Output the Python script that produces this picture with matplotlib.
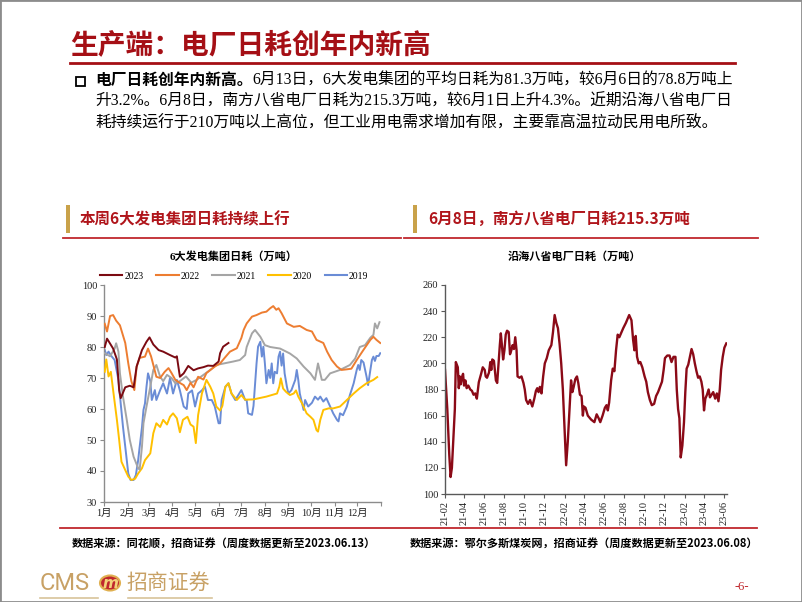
import numpy as np
import pandas as pd
import matplotlib
matplotlib.use('Agg')
import matplotlib.pyplot as plt
import matplotlib.dates as mdates
from matplotlib.patches import Rectangle, Circle
from matplotlib.lines import Line2D

# ---- left chart: 6 big power groups, daily coal burn (10k t), x = day of year
day_2023 = [1, 4, 12, 17, 20, 22, 28, 34, 39, 43, 50, 56, 60, 65, 72, 78, 87, 94, 96, 100,
            105, 111, 118, 124, 131, 137, 144, 151, 153, 157, 164]
val_2023 = [80, 82.7, 79.5, 76, 66, 63.5, 67, 67.5, 67, 73.7, 79, 81.7, 83.1, 80.8, 79, 78.5,
            77.4, 76.6, 77, 70.4, 71.5, 73.9, 72.5, 73.1, 73.5, 74, 73.9, 75.3, 78, 80.1, 81.3]

day_2022 = [1, 4, 8, 12, 16, 21, 28, 32, 36, 40, 43, 47, 54, 58, 62, 65, 69, 74, 80, 85,
            89, 94, 100, 105, 109, 114, 118, 124, 131, 135, 146, 153, 159, 166, 175, 181, 184,
            188, 195, 201, 208, 214, 219, 223, 227, 230, 234, 241, 250, 258, 267, 274, 280,
            289, 294, 300, 307, 313, 320, 326, 333, 342, 351, 355, 359, 364]
val_2022 = [87.5, 85, 90, 90.3, 88.5, 87, 81.3, 74.7, 69, 66.1, 73.7, 76.5, 76.9, 79.5, 77,
            74.2, 70.4, 70, 72, 73.2, 71.6, 69.4, 68.4, 67.7, 66.1, 68.5, 67, 70.4, 69.5, 71.6,
            73.7, 74.7, 76.5, 78.5, 79.6, 82.9, 85.5, 87.6, 89.8, 90.3, 91.1, 91.4, 92.5, 93.2,
            92, 92.5, 90.9, 87.6, 86.5, 86.8, 85.5, 85, 82.3, 81.3, 78.5, 75.8, 73.7, 72.6,
            72.8, 73, 75.8, 79.1, 82.3, 83.3, 82.3, 81.3]

day_2021 = [1, 8, 14, 16, 19, 21, 25, 30, 34, 39, 45, 47, 50, 52, 56, 61, 65, 69, 74, 78,
            83, 89, 94, 100, 108, 115, 122, 131, 140, 148, 160, 170, 179, 186, 188, 195, 199,
            206, 212, 219, 232, 245, 254, 263, 272, 278, 282, 287, 291, 298, 311, 324, 331,
            337, 344, 351, 355, 357, 360, 363]
val_2021 = [78, 77, 79.5, 81.2, 78.5, 71.5, 64, 56.5, 50, 44.6, 40.9, 40.5, 47.8, 55.4, 60.8,
            67.2, 72.6, 74.2, 70.4, 69, 71, 70, 68.3, 69, 70.5, 68.5, 69.4, 71, 72.6, 74.2,
            74.8, 75.3, 75.8, 77.4, 80, 84.4, 85.5, 83.3, 80.6, 80, 79.5, 77.9, 76.3, 73.7,
            71.5, 69.4, 74.7, 69.4, 69.4, 71.5, 72.6, 74.2, 76.3, 80, 80.6, 83, 83.9, 87.6,
            86, 88]

day_2020 = [1, 3, 6, 9, 12, 17, 20, 23, 28, 32, 36, 41, 45, 50, 54, 61, 65, 69, 74, 78,
            83, 87, 91, 96, 100, 104, 110, 114, 118, 121, 124, 129, 135, 140, 144, 148, 153,
            156, 160, 164, 168, 175, 181, 186, 197, 214, 228, 231, 233, 236, 240, 245, 250,
            253, 256, 261, 267, 272, 276, 280, 282, 285, 289, 296, 302, 311, 320, 329, 337,
            346, 355, 360]
val_2020 = [72, 76, 70.5, 72, 66.1, 56.5, 50, 43, 40.3, 38.2, 37.1, 37.5, 39.2, 40.9, 43.5,
            45.7, 52.2, 55.4, 54.2, 56.5, 55, 57.5, 58.6, 57, 52.5, 56.5, 57.5, 55, 54.3, 49,
            58, 65, 69.4, 67.2, 65, 60.8, 59.5, 61, 67.2, 68.3, 65, 62.9, 64.5, 63, 63.1, 64,
            65, 67.2, 69.9, 66.6, 65.5, 64.5, 65, 66, 64, 61.8, 58.6, 57.5, 56.5, 53.2, 52.7,
            56.5, 59.7, 60.2, 60.2, 60.8, 62.9, 65, 66.7, 68.3, 69.4, 70.3]

day_2019 = [1, 3, 6, 10, 14, 19, 22, 25, 29, 32, 35, 39, 42, 45, 47, 50, 52, 54, 56, 58,
            61, 63, 67, 69, 74, 78, 83, 87, 91, 96, 100, 105, 109, 111, 116, 120, 124, 129,
            133, 137, 142, 146, 151, 153, 155, 160, 164, 168, 173, 177, 181, 186, 188, 190,
            195, 197, 201, 203, 206, 208, 210, 212, 214, 217, 219, 221, 223, 225, 228, 230,
            232, 234, 236, 238, 241, 243, 247, 252, 254, 256, 258, 263, 265, 269, 274, 278,
            282, 285, 289, 293, 298, 302, 307, 309, 311, 315, 320, 324, 326, 329, 333, 335,
            337, 339, 342, 346, 348, 351, 353, 355, 357, 359, 362, 364]
val_2019 = [79, 77.4, 78.5, 77, 75.8, 69.4, 61.8, 54.3, 45.7, 39.2, 37.1, 37.1, 38.7, 43.5,
            47.8, 54, 59.7, 61.8, 67.2, 71.5, 69, 62.9, 66.1, 62.9, 66.1, 68.3, 65, 70, 65,
            69.4, 66, 60.8, 60, 65, 66, 60.8, 65, 66, 67.2, 62.9, 62.9, 60.8, 55.4, 55.4,
            62.9, 67.2, 68.3, 65, 62.9, 64.5, 66.1, 62.9, 62.9, 58.6, 58.1, 61, 74.7, 80.1,
            81.7, 76.9, 80.1, 74.7, 68.3, 72.6, 70, 74.7, 68.3, 72, 71.5, 76.9, 78.5, 74,
            77.9, 71.5, 67.2, 65, 66.1, 69.4, 72.6, 69.4, 65, 59.7, 62.9, 60.8, 62, 64, 63,
            64, 62.4, 63.5, 60.8, 58.6, 56.5, 56, 58.6, 58, 60.8, 64.5, 66, 68.3, 72.6, 74.2,
            72.6, 75.8, 75, 70.4, 67.7, 72.6, 75.8, 76.9, 75.5, 77.1, 77.1, 78]

years = ['2023', '2022', '2021', '2020', '2019']
month_labels = ['1月', '2月', '3月', '4月', '5月', '6月', '7月', '8月', '9月', '10月', '11月', '12月']
month_starts = [0, 31, 59, 90, 120, 151, 181, 212, 243, 273, 304, 334, 365]

# ---- right chart: coastal 8 provinces power plants daily burn (10k t)
south_dates = [
    '2021-02-01', '2021-02-08', '2021-02-14', '2021-02-18', '2021-02-22', '2021-02-26',
    '2021-03-03', '2021-03-06', '2021-03-09', '2021-03-12', '2021-03-15', '2021-03-18',
    '2021-03-21', '2021-03-24', '2021-03-28', '2021-03-31', '2021-04-04', '2021-04-08',
    '2021-04-13', '2021-04-19', '2021-04-24', '2021-04-29', '2021-05-04', '2021-05-09',
    '2021-05-15', '2021-05-22', '2021-05-27', '2021-06-02', '2021-06-05', '2021-06-09',
    '2021-06-15', '2021-06-19', '2021-06-22', '2021-06-25', '2021-06-30', '2021-07-06',
    '2021-07-10', '2021-07-14', '2021-07-18', '2021-07-21', '2021-07-24', '2021-07-28',
    '2021-08-01', '2021-08-05', '2021-08-09', '2021-08-14', '2021-08-18', '2021-08-22',
    '2021-08-26', '2021-08-30', '2021-09-03', '2021-09-07', '2021-09-10', '2021-09-16',
    '2021-09-22', '2021-09-28', '2021-10-02', '2021-10-06', '2021-10-12', '2021-10-18',
    '2021-10-25', '2021-10-31', '2021-11-05', '2021-11-09', '2021-11-13', '2021-11-17',
    '2021-11-22', '2021-11-27', '2021-12-02', '2021-12-08', '2021-12-14', '2021-12-22',
    '2021-12-27', '2022-01-01', '2022-01-06', '2022-01-11', '2022-01-16', '2022-01-21',
    '2022-01-26', '2022-01-31', '2022-02-05', '2022-02-10', '2022-02-16', '2022-02-20',
    '2022-02-24', '2022-02-28', '2022-03-05', '2022-03-10', '2022-03-14', '2022-03-19',
    '2022-03-24', '2022-03-28', '2022-03-31', '2022-04-05', '2022-04-12', '2022-04-22',
    '2022-05-02', '2022-05-09', '2022-05-15', '2022-05-20', '2022-05-27', '2022-06-03',
    '2022-06-08', '2022-06-12', '2022-06-16', '2022-06-22', '2022-06-27', '2022-07-02',
    '2022-07-07', '2022-07-12', '2022-07-17', '2022-07-22', '2022-07-29', '2022-08-06',
    '2022-08-16', '2022-08-23', '2022-08-28', '2022-09-01', '2022-09-05', '2022-09-09',
    '2022-09-14', '2022-09-19', '2022-09-25', '2022-10-02', '2022-10-07', '2022-10-12',
    '2022-10-18', '2022-10-24', '2022-10-31', '2022-11-06', '2022-11-12', '2022-11-18',
    '2022-11-24', '2022-11-29', '2022-12-03', '2022-12-10', '2022-12-17', '2022-12-23',
    '2022-12-29', '2023-01-04', '2023-01-08', '2023-01-12', '2023-01-16', '2023-01-20',
    '2023-01-25', '2023-01-30', '2023-02-03', '2023-02-07', '2023-02-12', '2023-02-17',
    '2023-02-22', '2023-02-27', '2023-03-04', '2023-03-09', '2023-03-14', '2023-03-19',
    '2023-03-24', '2023-03-28', '2023-04-01', '2023-04-05', '2023-04-10', '2023-04-15',
    '2023-04-19', '2023-04-24', '2023-04-29', '2023-05-05', '2023-05-10', '2023-05-15',
    '2023-05-19', '2023-05-23', '2023-05-28', '2023-06-02', '2023-06-08']
south_vals = [
    195, 165, 130, 113, 120, 140, 165, 201, 199, 197, 181, 190,
    184, 189, 192, 183, 187, 181, 183, 180, 179, 176, 177, 173,
    185.6, 192, 197, 195, 190, 189, 193, 201, 195, 203, 202, 187,
    185, 200, 214, 223, 215, 203, 210, 222, 225, 224, 207, 210,
    214, 211, 220, 210, 190, 189, 190, 185, 180, 172, 169, 172,
    167, 173, 179, 181, 178, 182, 177, 190, 200, 204, 210, 214,
    224, 237, 231, 227, 215, 200, 180, 150, 122, 140, 168, 187,
    178, 182, 188, 190, 185, 176, 175, 160, 167, 166, 160, 157,
    155, 161, 158, 155, 160, 166, 168, 164, 170, 187, 196, 194,
    210, 222, 220, 223, 227, 231, 237, 233, 218, 210, 221, 205,
    200, 201, 197, 190, 186, 178, 172, 168, 169, 175, 178, 182,
    186, 195, 204, 206, 206, 201, 205, 205, 180, 165, 158, 128,
    137, 155, 178, 196, 199, 205, 211, 207, 200, 194, 189, 190,
    186, 180, 164, 173, 176, 180, 174, 176, 178, 173, 177, 171,
    180, 195, 205, 212, 215.3]

colors = {'2023': '#7B0A12', '2022': '#ED7D31', '2021': '#A5A5A5',
          '2020': '#FFC000', '2019': '#6A8CD6'}
RED = '#A50F15'
GOLD = '#C9A24A'
SERIF = ['Liberation Serif', 'Noto Sans CJK SC']
SANS = ['Noto Sans CJK SC', 'DejaVu Sans']

W, H = 802, 602


def fx(px):
    return px / W


def fy(py):
    return 1 - py / H


def hline(fig, x0, x1, y, color, lw):
    fig.add_artist(Line2D([fx(x0), fx(x1)], [fy(y), fy(y)], color=color, lw=lw,
                          transform=fig.transFigure))


def left_chart(fig):
    ax = fig.add_axes([fx(104), fy(502), fx(381) - fx(104), fy(285) - fy(502)])
    series = {'2023': (day_2023, val_2023), '2022': (day_2022, val_2022),
              '2021': (day_2021, val_2021), '2020': (day_2020, val_2020),
              '2019': (day_2019, val_2019)}
    # older years underneath
    for i, y in enumerate(years[::-1]):
        d, v = series[y]
        ax.plot(d, v, color=colors[y], lw=1.4, zorder=2 + i)
    ax.set_xlim(0, 365)
    ax.set_ylim(30, 100)
    ax.set_yticks(np.arange(30, 101, 10))
    ax.set_xticks(month_starts)
    ax.set_xticklabels(month_labels + [''])
    for s in ['top', 'right']:
        ax.spines[s].set_visible(False)
    for s in ['left', 'bottom']:
        ax.spines[s].set_color('#8C8C8C')
        ax.spines[s].set_linewidth(1.0)
    ax.tick_params(axis='both', colors='#8C8C8C', length=3, width=0.8, labelcolor='#222222',
                   labelsize=7.5, pad=2)
    for t in ax.get_xticklabels() + ax.get_yticklabels():
        t.set_family(SERIF)
    handles = [Line2D([], [], color=colors[y], lw=1.5) for y in years]
    ax.legend(handles, years, loc='center', bbox_to_anchor=(0.47, 1.04), ncol=5,
              frameon=False, handlelength=2.3, handletextpad=0.2, columnspacing=1.3,
              prop={'family': SERIF, 'size': 7})
    fig.text(fx(234), fy(257), '6大发电集团日耗（万吨）', ha='center', va='center',
             fontsize=8, fontweight='bold', family=SERIF)


def right_chart(fig):
    ax = fig.add_axes([fx(445), fy(494), fx(727) - fx(445), fy(285) - fy(494)])
    dates = pd.to_datetime(south_dates)
    ax.plot(dates, south_vals, color='#8B0A17', lw=1.7)
    ax.set_ylim(100, 260)
    ax.set_yticks(np.arange(100, 261, 20))
    ax.set_xlim(pd.Timestamp('2021-02-01'), pd.Timestamp('2023-06-10'))
    ax.xaxis.set_major_locator(mdates.MonthLocator(bymonth=[2, 4, 6, 8, 10, 12]))
    ax.xaxis.set_major_formatter(mdates.DateFormatter('%y-%m'))
    for s in ['top', 'right']:
        ax.spines[s].set_visible(False)
    for s in ['left', 'bottom']:
        ax.spines[s].set_color('#595959')
        ax.spines[s].set_linewidth(1.0)
    ax.tick_params(axis='both', colors='#595959', length=3, width=0.8, labelcolor='#222222',
                   labelsize=7.5, pad=2)
    ax.tick_params(axis='x', labelrotation=90)
    for t in ax.get_xticklabels() + ax.get_yticklabels():
        t.set_family(SERIF)
    fig.text(fx(574), fy(257), '沿海八省电厂日耗（万吨）', ha='center', va='center',
             fontsize=8, fontweight='bold', family=SERIF)


def slide(fig):
    # frame
    fig.add_artist(Rectangle((0, 0), 1, 1, transform=fig.transFigure, fill=False,
                             edgecolor='#8C8C8C', lw=2))
    # title
    fig.text(fx(70), fy(45), '生产端：电厂日耗创年内新高', ha='left', va='center',
             fontsize=20, fontweight='bold', color=RED, family=SANS)
    hline(fig, 70, 735, 63, RED, 2.0)

    # bullet paragraph
    fig.add_artist(Rectangle((fx(76), fy(86)), fx(9), fy(0) - fy(9), transform=fig.transFigure,
                             fill=False, edgecolor='black', lw=1.3))
    fs = 11.35
    bold = fig.text(fx(95), fy(81), '电厂日耗创年内新高。', ha='left', va='center',
                    fontsize=fs, fontweight='bold', family=SERIF)
    fig.canvas.draw()
    bb = bold.get_window_extent()
    fig.text(bb.x1 / W, fy(81), '6月13日，6大发电集团的平均日耗为81.3万吨，较6月6日的78.8万吨上',
             ha='left', va='center', fontsize=fs, family=SERIF)
    fig.text(fx(95), fy(102), '升3.2%。6月8日，南方八省电厂日耗为215.3万吨，较6月1日上升4.3%。近期沿海八省电厂日',
             ha='left', va='center', fontsize=fs, family=SERIF)
    fig.text(fx(95), fy(123), '耗持续运行于210万吨以上高位，但工业用电需求增加有限，主要靠高温拉动民用电所致。',
             ha='left', va='center', fontsize=fs, family=SERIF)

    # section headers
    for x_bar, x_txt, txt, x0, x1 in [(66, 80, '本周6大发电集团日耗持续上行', 63, 401),
                                       (413, 428, '6月8日，南方八省电厂日耗215.3万吨', 404, 758)]:
        fig.add_artist(Rectangle((fx(x_bar), fy(233)), fx(4), fy(205) - fy(233),
                                 transform=fig.transFigure, color=GOLD, lw=0))
        fig.text(fx(x_txt), fy(219), txt, ha='left', va='center', fontsize=11.2,
                 fontweight='bold', color='#B0151B', family=SANS)
        hline(fig, x0, x1, 238, '#C0282D', 1.3)

    # sources
    hline(fig, 60, 757, 528, '#C0282D', 1.3)
    fig.text(fx(72), fy(543), '数据来源：同花顺，招商证券（周度数据更新至2023.06.13）', ha='left',
             va='center', fontsize=8, fontweight='bold', family=SANS)
    fig.text(fx(410), fy(543), '数据来源：鄂尔多斯煤炭网，招商证券（周度数据更新至2023.06.08）',
             ha='left', va='center', fontsize=8, fontweight='bold', family=SANS)

    # footer logo
    fig.text(fx(40), fy(583), 'CMS', ha='left', va='center', fontsize=17, color='#C8A165',
             family='Roboto')
    fig.add_artist(Circle((fx(110), fy(583)), fx(10), transform=fig.transFigure,
                          facecolor='#C0282D', edgecolor='#E0B050', lw=1.5))
    fig.text(fx(110), fy(583), 'm', ha='center', va='center', fontsize=11, color='#F3D27A',
             fontweight='bold', fontstyle='italic', family='DejaVu Sans')
    fig.text(fx(126), fy(583), '招商证券', ha='left', va='center', fontsize=15,
             color='#C8A165', family=SANS)
    hline(fig, 40, 98, 598, '#D8C39A', 1.2)
    hline(fig, 128, 212, 598, '#D8C39A', 1.2)
    fig.text(fx(742), fy(587), '-6-', ha='center', va='center', fontsize=9,
             color='#C0282D', family=SERIF)


def main():
    fig = plt.figure(figsize=(W / 100, H / 100), dpi=100)
    fig.patch.set_facecolor('white')
    slide(fig)
    left_chart(fig)
    right_chart(fig)
    fig.savefig('out.png', dpi=100)


if __name__ == "__main__":
    main()
